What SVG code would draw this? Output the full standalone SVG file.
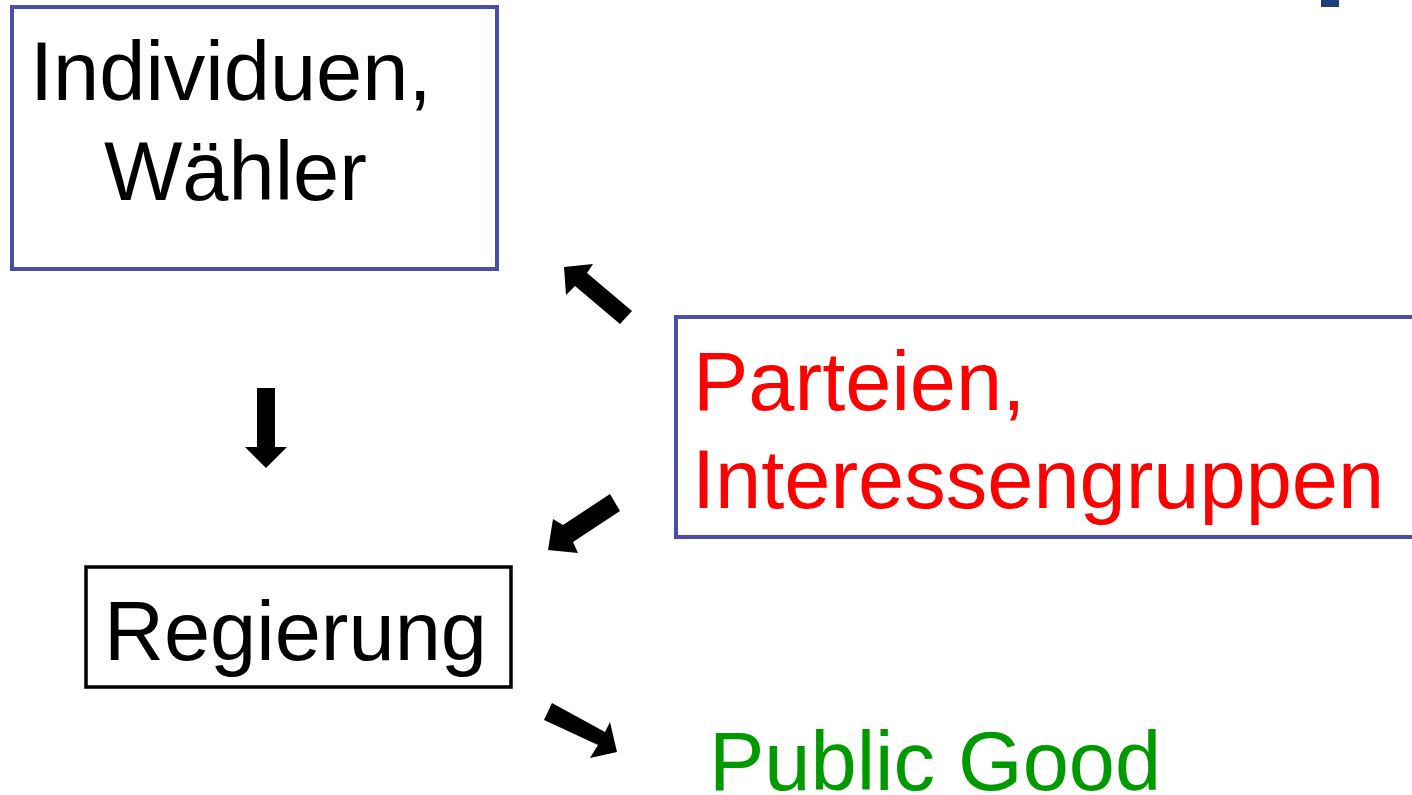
<svg xmlns="http://www.w3.org/2000/svg" width="1412" height="795" viewBox="0 0 1412 795">
<style>
.t{font-family:"Liberation Sans",Arial,sans-serif;font-size:83px}
.bb{fill:#fff;stroke:#4A4EAA;stroke-width:4}
.kb{fill:#fff;stroke:#000;stroke-width:3.5}
.ar{fill:#000}
</style>
<rect x="1321" y="0" width="18" height="7" fill="#1F3C7C"/>
<g id="individuen">
<rect class="bb" x="12" y="7" width="485" height="262"/>
<text class="t" x="30" y="100" fill="#000">Individuen,</text>
<text class="t" x="104" y="200" fill="#000">Wähler</text>
</g>
<g id="parteien">
<rect class="bb" x="676" y="317" width="760" height="220"/>
<text class="t" x="693" y="410" fill="#FF0000">Parteien,</text>
<text class="t" x="692" y="508" fill="#FF0000">Interessengruppen</text>
</g>
<g id="regierung">
<rect class="kb" x="86" y="567" width="425" height="120"/>
<text class="t" x="104" y="660" fill="#000">Regierung</text>
</g>
<g id="publicgood">
<text class="t" x="709" y="790" fill="#009900">Public Good</text>
</g>
<g id="connectors">
<polygon class="ar" points="257,388 275,388 275,447 287,447 266,468 245,447 257,447"/>
<polygon class="ar" points="564,267 593,264 587,273 632,311 620,324 575,286 566,295"/>
<polygon class="ar" points="548,550 553,519 563,525 610,494 620,511 573,542 578,553"/>
<polygon class="ar" points="552,703 605,732 610,722 617,752 590,758 598,745 544,720"/>
</g>
</svg>
